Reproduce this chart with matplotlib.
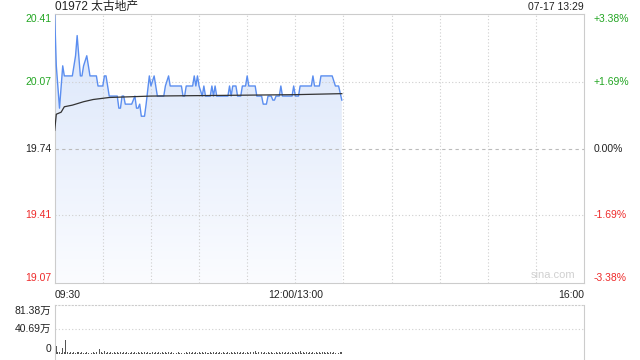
import matplotlib
matplotlib.use('Agg')
import matplotlib.pyplot as plt
import numpy as np
from matplotlib.colors import LinearSegmentedColormap

plt.rcParams['font.family'] = ['Liberation Sans', 'Noto Sans CJK SC']

# price line vertices (minutes after 09:30, price)
price_min = [0, 1, 3, 5, 6, 11, 12, 13, 14, 15, 16, 17, 18, 20, 21, 22, 26, 27, 30, 31,
             32, 34, 39, 40, 41, 42, 43, 44, 48, 50, 51, 52, 53, 54, 56, 57, 59, 60, 62, 64,
             68, 69, 71, 72, 79, 80, 81, 82, 86, 87, 88, 89, 90, 92, 93, 94, 97, 98, 99, 100,
             101, 108, 109, 110, 111, 113, 114, 116, 117, 119, 120, 121, 125, 126, 129, 130, 132, 133, 135, 136,
             137, 138, 140, 141, 142, 148, 149, 150, 152, 153, 160, 161, 162, 165, 166, 173, 175, 177, 179]
price_val = [20.40, 20.15, 19.94, 20.15, 20.10, 20.10, 20.15, 20.20, 20.30, 20.20, 20.10, 20.10, 20.15, 20.20, 20.15, 20.10, 20.10, 20.05, 20.05, 20.10,
             20.10, 20.00, 20.00, 19.94, 19.94, 20.00, 20.00, 19.96, 19.96, 20.00, 19.94, 19.94, 19.96, 19.90, 19.90, 19.96, 20.10, 20.05, 20.10, 20.00,
             20.00, 20.05, 20.10, 20.05, 20.05, 20.00, 20.00, 20.05, 20.05, 20.10, 20.05, 20.10, 20.05, 20.00, 20.05, 20.00, 20.00, 20.05, 20.00, 20.05,
             20.00, 20.00, 20.05, 20.00, 20.05, 20.05, 20.00, 20.00, 20.05, 20.05, 20.10, 20.05, 20.05, 20.00, 20.00, 19.96, 19.96, 20.00, 20.00, 19.98,
             19.98, 20.00, 20.00, 20.05, 20.00, 20.00, 20.05, 20.00, 20.00, 20.05, 20.05, 20.10, 20.05, 20.05, 20.10, 20.10, 20.05, 20.05, 19.98]

# average price line vertices
avg_min = [0, 1, 4, 6, 11, 18, 24, 29, 34, 60, 100, 150, 179]
avg_val = [19.83, 19.91, 19.92, 19.947, 19.955, 19.972, 19.983, 19.988, 19.993, 20.0, 20.003, 20.007, 20.012]

# volume per minute (万)
volume = [81.38, 13.0, 2.5, 3.5, 1.8, 10.0, 2.2, 22.0, 2.0, 1.5,
          2.4, 1.2, 2.8, 1.6, 2.1, 3.0, 1.4, 2.6, 1.9, 1.1,
          2.2, 1.7, 3.1, 1.3, 2.0, 1.5, 2.7, 1.8, 7.0, 2.3,
          1.6, 4.2, 1.9, 2.5, 1.2, 3.3, 1.7, 2.1, 1.4, 2.9,
          1.8, 2.4, 1.1, 2.6, 1.5, 3.4, 1.9, 1.3, 2.2, 1.6,
          2.8, 1.2, 2.0, 1.7, 3.0, 1.4, 2.3, 1.8, 2.5, 1.1,
          1.9, 2.6, 1.3, 2.1, 1.6, 2.9, 1.5, 2.2, 1.2, 2.4,
          1.7, 3.2, 1.4, 2.0, 1.8, 2.7, 1.3, 2.3, 1.6, 1.9,
          2.5, 1.2, 2.1, 1.5, 2.8, 1.7, 2.4, 1.1, 2.0, 1.6,
          3.0, 1.4, 2.2, 1.8, 2.6, 1.3, 1.9, 2.4, 1.5, 2.1,
          1.2, 2.7, 1.6, 2.0, 1.4, 2.5, 1.8, 1.3, 2.3, 1.7,
          2.9, 1.5, 2.1, 1.2, 2.4, 1.9, 3.3, 1.4, 2.0, 1.6,
          2.6, 1.3, 2.2, 1.8, 2.5, 4.0, 1.5, 2.1, 1.7, 2.8,
          1.2, 2.3, 1.6, 2.0, 1.4, 2.7, 1.9, 1.3, 2.4, 1.5,
          2.2, 1.8, 2.6, 1.1, 2.0, 1.7, 2.9, 1.4, 2.3, 1.6,
          3.1, 1.5, 2.1, 4.2, 1.8, 2.4, 1.3, 2.0, 1.6, 2.7,
          1.4, 2.2, 1.9, 2.5, 1.2, 2.8, 1.7, 2.1, 3.5, 1.5,
          2.3, 1.8, 2.6, 1.4, 2.0, 1.6, 2.4, 1.9, 2.2, 3.0]

prev_close = 19.74
price_ticks = [20.41, 20.07, 19.74, 19.41, 19.07]
pct_labels = ['+3.38%', '+1.69%', '0.00%', '-1.69%', '-3.38%']
vol_labels = ['81.38万', '40.69万', '0']
vol_max = 81.38
ymin, ymax = 19.073, 20.407

green = '#22a522'
red = '#ee2a2a'
tick_colors = [green, green, '#222222', red, red]
grid_c = '#cfcfcf'

fig = plt.figure(figsize=(6.4, 3.6), dpi=100)
ax = fig.add_axes([54.7 / 640, 1 - 283 / 360, (584 - 54.7) / 640, (283 - 14) / 360])
ax.set_xlim(0, 330)
ax.set_ylim(ymin, ymax)

# gradient fill under the price line
poly = ax.fill_between(price_min, price_val, ymin, color='none', lw=0)
cmap = LinearSegmentedColormap.from_list('blu', ['#fbfcff', '#d9e5fa'])
grad = np.linspace(0, 1, 256).reshape(-1, 1)
img = ax.imshow(grad, extent=[0, 179, ymin, ymax], aspect='auto', cmap=cmap,
                origin='lower', zorder=1)
img.set_clip_path(poly.get_paths()[0], transform=ax.transData)

# grid (drawn over the fill)
for t in range(30, 330, 30):
    ax.axvline(t, color=grid_c, lw=0.8, ls=(0, (1, 2)), zorder=2)
for p in [20.07, 19.41]:
    ax.axhline(p, color=grid_c, lw=0.8, ls=(0, (1, 2)), zorder=2)
ax.axhline(prev_close, color='#bbbbbb', lw=0.8, ls=(0, (3, 3)), zorder=2)

ax.plot(price_min, price_val, color='#5b8ef0', lw=1.0, zorder=3)
ax.plot(avg_min, avg_val, color='#333333', lw=0.9, zorder=4)

for s in ax.spines.values():
    s.set_color('#cccccc')
    s.set_linewidth(0.8)
ax.set_xticks([])
ax.set_yticks([])

# axis labels
for i, (p, lab, c) in enumerate(zip(price_ticks, pct_labels, tick_colors)):
    va = 'top' if i == 0 else ('bottom' if i == 4 else 'center')
    yy = ymax if i == 0 else (ymin if i == 4 else p)
    ax.text(-3.5 / 529 * 330, yy, f'{p:.2f}', ha='right', va=va, color=c, fontsize=7.5)
    ax.text(336, yy, lab, ha='left', va=va, color=c, fontsize=7.5)

ax.text(0, -0.025, '09:30', transform=ax.transAxes, ha='left', va='top', fontsize=7.5, color='#222222')
ax.text(150 / 330, -0.025, '12:00/13:00', transform=ax.transAxes, ha='center', va='top', fontsize=7.5, color='#222222')
ax.text(1, -0.025, '16:00', transform=ax.transAxes, ha='right', va='top', fontsize=7.5, color='#222222')
ax.text(0.983, 0.012, 'sina.com', transform=ax.transAxes, ha='right', va='bottom', fontsize=8, color='#d0d0d0')

fig.text(55 / 640, 1 - 7 / 360, '01972 太古地产', ha='left', va='center', fontsize=8.5, color='#222222')
fig.text(584 / 640, 1 - 7 / 360, '07-17 13:29', ha='right', va='center', fontsize=7.5, color='#222222')

# volume panel
axv = fig.add_axes([54.7 / 640, 0, (584 - 54.7) / 640, (360 - 304.5) / 360])
axv.set_xlim(0, 330)
axv.set_ylim(-vol_max * 6.3 / 49.2, vol_max)
axv.bar(range(len(volume)), volume, width=0.6, color='#555555', lw=0)
axv.axhline(vol_max / 2, color=grid_c, lw=0.8, ls=(0, (1, 2)))
axv.spines['bottom'].set_visible(False)
axv.spines['top'].set_linestyle((0, (1, 2)))
for s in axv.spines.values():
    s.set_color('#cccccc')
    s.set_linewidth(0.8)
axv.set_xticks([])
axv.set_yticks([])
vx = -3.5 / 529 * 330
axv.text(vx, vol_max * 0.97, vol_labels[0], ha='right', va='top', fontsize=7.5, color='#222222')
axv.text(vx, vol_max / 2, vol_labels[1], ha='right', va='center', fontsize=7.5, color='#222222')
axv.text(vx, 0, vol_labels[2], ha='right', va='bottom', fontsize=7.5, color='#222222')

fig.savefig('out.png', dpi=100)
